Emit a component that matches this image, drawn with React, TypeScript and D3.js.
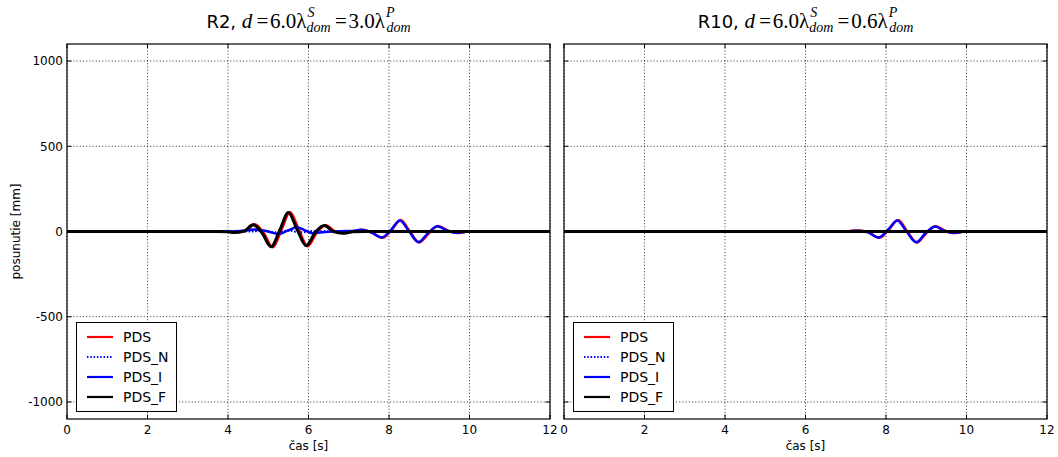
import React from 'react';
import * as d3 from 'd3';

// ---------- data ----------
const xTicks = [0, 2, 4, 6, 8, 10, 12];
const yTicks = [-1000, -500, 0, 500, 1000];
const seriesNames = ['PDS', 'PDS_N', 'PDS_I', 'PDS_F'];

// R2 panel
const r2PdsT = [0, 3.7, 4.04, 4.21, 4.44, 4.66, 4.89, 5.11, 5.33, 5.54, 5.76, 5.98, 6.21, 6.43, 6.66, 6.9, 7.1, 7.33, 7.57, 7.84, 8.07, 8.29, 8.52, 8.75, 8.99, 9.22, 9.47, 9.7, 9.92, 10.2, 12];
const r2PdsV = [0, 0, -2, -6, 2, 42, -10, -93, 10, 115, 10, -86, -5, 37, 0, -10, 0, 10, -5, -37, 10, 67, 0, -64, -10, 32, 5, -9, -2, 0, 0];
const r2PdsNT = [0, 4.5, 4.9, 5.2, 5.5, 5.8, 6.1, 6.5, 12];
const r2PdsNV = [0, 0, 4, -8, 6, -6, 3, 0, 0];
const r2PdsIT = [0, 3.8, 4.3, 4.65, 5.0, 5.25, 5.48, 5.71, 5.9, 6.1, 6.4, 6.8, 7.05, 7.31, 7.55, 7.82, 8.05, 8.27, 8.5, 8.73, 8.97, 9.2, 9.45, 9.68, 9.9, 10.2, 12];
const r2PdsIV = [0, 0, 3, 12, 0, -15, 5, 25, 8, -10, -3, 2, 3, 10, -5, -35, 10, 65, 0, -62, -10, 31, 5, -8, -2, 0, 0];
const r2PdsFT = [0, 3.7, 4.0, 4.17, 4.4, 4.62, 4.85, 5.07, 5.29, 5.5, 5.72, 5.94, 6.17, 6.39, 6.62, 6.86, 7.1, 7.4, 12];
const r2PdsFV = [0, 0, -2, -6, 2, 40, -10, -90, 10, 112, 10, -83, -5, 35, 0, -10, -2, 0, 0];

// R10 panel
const r10PdsT = [0, 6.8, 7.06, 7.33, 7.57, 7.83, 8.07, 8.3, 8.53, 8.77, 9.0, 9.24, 9.46, 9.69, 9.92, 10.2, 12];
const r10PdsV = [0, 0, 2, 6, -5, -37, 10, 67, 0, -65, -10, 31, 5, -9, -2, 0, 0];
const r10PdsNT = [0, 12];
const r10PdsNV = [0, 0];
const r10PdsIT = [0, 6.8, 7.05, 7.31, 7.55, 7.81, 8.05, 8.28, 8.51, 8.75, 8.98, 9.22, 9.44, 9.67, 9.9, 10.2, 12];
const r10PdsIV = [0, 0, 2, 5, -5, -35, 10, 65, 0, -63, -10, 30, 5, -8, -2, 0, 0];
const r10PdsFT = [0, 12];
const r10PdsFV = [0, 0];

const seriesStyle: Record<string, { color: string; dash?: string; width: number }> = {
  PDS: { color: '#ff0000', width: 2.5 },
  PDS_N: { color: '#0000ff', dash: '1.5,1.8', width: 2.2 },
  PDS_I: { color: '#0000ff', width: 2.5 },
  PDS_F: { color: '#000000', width: 3 },
};

type Series = { name: string; t: number[]; v: number[] };

const r2Series: Series[] = [
  { name: 'PDS', t: r2PdsT, v: r2PdsV },
  { name: 'PDS_N', t: r2PdsNT, v: r2PdsNV },
  { name: 'PDS_I', t: r2PdsIT, v: r2PdsIV },
  { name: 'PDS_F', t: r2PdsFT, v: r2PdsFV },
];
const r10Series: Series[] = [
  { name: 'PDS', t: r10PdsT, v: r10PdsV },
  { name: 'PDS_N', t: r10PdsNT, v: r10PdsNV },
  { name: 'PDS_I', t: r10PdsIT, v: r10PdsIV },
  { name: 'PDS_F', t: r10PdsFT, v: r10PdsFV },
];

const SANS = 'DejaVu Sans, sans-serif';
const SERIF = 'Liberation Serif, DejaVu Serif, serif';

const TOP = 44;
const BOTTOM = 419;
const W = 483;

function Title({ cx, name, ratio }: { cx: number; name: string; ratio: string }) {
  const sz = 21;
  const ss = 14;
  return (
    <text x={cx} y={27.5} textAnchor="middle" fontSize={18} fill="#000">
      <tspan fontFamily={SANS}>{name}, </tspan>
      <tspan fontFamily={SERIF} fontStyle="italic" fontSize={sz}>d</tspan>
      <tspan fontFamily={SERIF} fontSize={sz}>{'\u2009=\u200a6.0λ'}</tspan>
      <tspan fontFamily={SERIF} fontStyle="italic" fontSize={ss} dx={1} dy={-11}>S</tspan>
      <tspan fontFamily={SERIF} fontStyle="italic" fontSize={ss} dx={-8} dy={15.5}>dom</tspan>
      <tspan fontFamily={SERIF} fontSize={sz} dy={-4.5}>{'\u2009=\u200a' + ratio + 'λ'}</tspan>
      <tspan fontFamily={SERIF} fontStyle="italic" fontSize={ss} dx={1} dy={-11}>P</tspan>
      <tspan fontFamily={SERIF} fontStyle="italic" fontSize={ss} dx={-8} dy={15.5}>dom</tspan>
    </text>
  );
}

function Panel({ left, series, showY, name, ratio, clipId }: { left: number; series: Series[]; showY: boolean; name: string; ratio: string; clipId: string }) {
  const x = d3.scaleLinear().domain([0, 12]).range([left, left + W]);
  const y = d3.scaleLinear().domain([-1100, 1100]).range([BOTTOM, TOP]);
  const line = d3
    .line<[number, number]>()
    .x((d) => x(d[0]))
    .y((d) => y(d[1]))
    .curve(d3.curveMonotoneX);
  const tl = 4.5;
  return (
    <g>
      <defs>
        <clipPath id={clipId}>
          <rect x={left} y={TOP} width={W} height={BOTTOM - TOP} />
        </clipPath>
      </defs>
      {/* grid */}
      {xTicks.map((t) => (
        <line key={'gx' + t} x1={x(t)} x2={x(t)} y1={TOP} y2={BOTTOM} stroke="#000" strokeWidth={0.8} strokeDasharray="1,2.2" />
      ))}
      {yTicks.map((t) => (
        <line key={'gy' + t} x1={left} x2={left + W} y1={y(t)} y2={y(t)} stroke="#000" strokeWidth={0.8} strokeDasharray="1,2.2" />
      ))}
      {/* series */}
      <g clipPath={`url(#${clipId})`}>
        {series.map((s) => {
          const pts = s.t.map((t, i) => [t, s.v[i]] as [number, number]);
          const st = seriesStyle[s.name];
          return (
            <path key={s.name} d={line(pts) || ''} fill="none" stroke={st.color} strokeWidth={st.width} strokeDasharray={st.dash} strokeLinejoin="round" />
          );
        })}
      </g>
      {/* ticks */}
      {xTicks.map((t) => (
        <g key={'tx' + t}>
          <line x1={x(t)} x2={x(t)} y1={BOTTOM} y2={BOTTOM - tl} stroke="#000" strokeWidth={1} />
          <line x1={x(t)} x2={x(t)} y1={TOP} y2={TOP + tl} stroke="#000" strokeWidth={1} />
          <text x={x(t)} y={433.5} textAnchor="middle" fontFamily={SANS} fontSize={12} fill="#000">{t}</text>
        </g>
      ))}
      {yTicks.map((t) => (
        <g key={'ty' + t}>
          <line x1={left} x2={left + tl} y1={y(t)} y2={y(t)} stroke="#000" strokeWidth={1} />
          <line x1={left + W} x2={left + W - tl} y1={y(t)} y2={y(t)} stroke="#000" strokeWidth={1} />
          {showY && (
            <text x={left - 4} y={y(t) + 4.3} textAnchor="end" fontFamily={SANS} fontSize={12} fill="#000">{t}</text>
          )}
        </g>
      ))}
      {/* frame */}
      <rect x={left} y={TOP} width={W} height={BOTTOM - TOP} fill="none" stroke="#000" strokeWidth={1.2} />
      {/* labels */}
      <text x={left + W / 2} y={450} textAnchor="middle" fontFamily={SANS} fontSize={12} fill="#000">čas [s]</text>
      {showY && (
        <text transform={`translate(20,${(TOP + BOTTOM) / 2}) rotate(-90)`} textAnchor="middle" fontFamily={SANS} fontSize={12} fill="#000">posunutie [mm]</text>
      )}
      <Title cx={left + W / 2} name={name} ratio={ratio} />
      {/* legend */}
      <g>
        <rect x={left + 9.5} y={322.5} width={100} height={89} fill="#fff" stroke="#000" strokeWidth={1} />
        {seriesNames.map((n, i) => {
          const ly = 337 + i * 20;
          const st = seriesStyle[n];
          return (
            <g key={'lg' + n}>
              <line x1={left + 20} x2={left + 46} y1={ly} y2={ly} stroke={st.color} strokeWidth={2.2} strokeDasharray={st.dash} />
              <text x={left + 56} y={ly + 5.3} fontFamily={SANS} fontSize={14} fill="#000">{n}</text>
            </g>
          );
        })}
      </g>
    </g>
  );
}

export default function App() {
  return (
    <svg width={1058} height={457} style={{ position: 'absolute', left: 0, top: 0, background: '#fff' }}>
      <rect x={0} y={0} width={1058} height={457} fill="#fff" />
      <Panel left={67} series={r2Series} showY={true} name="R2" ratio="3.0" clipId="c1" />
      <Panel left={564} series={r10Series} showY={false} name="R10" ratio="0.6" clipId="c2" />
    </svg>
  );
}
